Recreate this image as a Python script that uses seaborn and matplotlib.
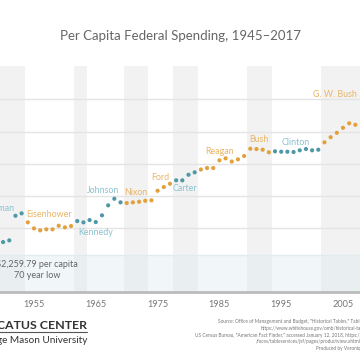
import matplotlib
matplotlib.use('Agg')
import matplotlib.pyplot as plt
import seaborn as sns
import pandas as pd

# per capita federal spending (visible part of the chart)
years = list(range(1950, 2008))
spending = [3094, 3200, 4738, 4888, 4325, 3950, 3825, 3888, 3888, 4113,
            4013, 4094, 4406, 4325, 4469, 4344, 4763, 5388, 5800, 5575,
            5531, 5575, 5613, 5675, 5700, 6300, 6531, 6738, 6950, 6950,
            7300, 7450, 7625, 7719, 7719, 8200, 8325, 8125, 8263, 8469,
            8925, 8906, 8863, 8700, 8763, 8738, 8738, 8719, 8825, 8906,
            8825, 8863, 9325, 9644, 9919, 10231, 10513, 10419]

# presidents: name, first fiscal year of their budget, party
presidents = ['Truman', 'Eisenhower', 'Kennedy', 'Johnson', 'Nixon', 'Ford',
              'Carter', 'Reagan', 'Bush', 'Clinton', 'G. W. Bush']
first_fy = [1946, 1954, 1962, 1964, 1970, 1974, 1978, 1982, 1990, 1994, 2002]
party = ['D', 'R', 'D', 'D', 'R', 'R', 'D', 'R', 'R', 'D', 'R']

low_value = 2259.79
xticks = [1955, 1965, 1975, 1985, 1995, 2005]

# label positions (year, value) for president names
label_pos = [(1951.9, 5219, 'right'), (1953.7, 4844, 'left'), (1962.1, 3675, 'left'),
             (1963.6, 6300, 'left'), (1969.6, 6200, 'left'), (1973.9, 7138, 'left'),
             (1977.5, 6425, 'left'), (1982.7, 8781, 'left'), (1989.8, 9488, 'left'),
             (1995.1, 9300, 'left'), (2000.15, 12325, 'left')]

def party_of(y):
    p = party[0]
    for fy, pt in zip(first_fy, party):
        if y >= fy:
            p = pt
    return p

df = pd.DataFrame({'year': years, 'spending': spending})
df['party'] = [party_of(y) for y in years]

dot_col = {'D': '#4f98a6', 'R': '#e2a13c'}
lab_col = {'D': '#8cc2cd', 'R': '#eab566'}

sns.set_style('white')
plt.rcParams['font.family'] = ['Lato', 'DejaVu Sans']

fig = plt.figure(figsize=(3.6, 3.6), dpi=100)
ax = fig.add_axes([0, 0.19, 1, 0.627])

# alternating presidency bands
for i, fy in enumerate(first_fy):
    end = first_fy[i + 1] - 0.5 if i + 1 < len(first_fy) else 2030
    if i % 2 == 0:
        ax.axvspan(fy - 0.5 if i > 0 else 1900, end, color='#f2f2f2', lw=0, zorder=0)

for v in range(4000, 14000, 2000):
    ax.axhline(v, color='#e4e4e4', lw=1, zorder=1)

ax.axhspan(0, low_value, color='#dcecee', alpha=0.4, lw=0, zorder=1)
ax.axhline(low_value, color='#e0ecee', lw=1, zorder=1)

sns.scatterplot(data=df, x='year', y='spending', hue='party', palette=dot_col,
                s=9, linewidth=0, legend=False, ax=ax, zorder=3)

for name, fy, pt, (lx, ly, ha) in zip(presidents, first_fy, party, label_pos):
    ax.text(lx, ly, name, color=lab_col[pt], fontsize=6.4, ha=ha, va='center')

ax.text(1955.5, 1400, '$2,259.79 per capita\n70 year low', color='#666666',
        fontsize=6.5, ha='center', va='center', linespacing=1.3)

ax.set_xlim(1949.5, 2007.75)
ax.set_ylim(0, 14100)
ax.set_yticks([])
ax.set_xticks(xticks)
ax.set_xticklabels([str(t) for t in xticks], color='#777777', fontsize=6.6)
ax.tick_params(axis='x', length=0, pad=6)
ax.set_xlabel('')
ax.set_ylabel('')
for s in ['top', 'left', 'right']:
    ax.spines[s].set_visible(False)
ax.spines['bottom'].set_color('#bbbbbb')
ax.spines['bottom'].set_linewidth(2)

fig.text(0.5, 0.9, 'Per Capita Federal Spending, 1945\u20132017', ha='center', va='center',
         fontsize=9.5, color='#666666')

fig.text(0.242, 0.097, 'MERCATUS CENTER', ha='right', va='center', fontsize=8.9,
         fontweight='bold', color='#333333')
fig.add_artist(plt.Line2D([-0.1, 0.242], [0.077, 0.077], color='#555555', lw=0.8))
fig.text(0.242, 0.055, 'George Mason University', ha='right', va='center', fontsize=7.2,
         color='#333333')

source = [('Source: Office of Management and Budget, "Historical Tables," Table 1.1', 218, 321.7),
          ('https://www.whitehouse.gov/omb/historical-tables/', 261, 328.2),
          ('US Census Bureau, "American Fact Finder," accessed January 12, 2018, https://factfinder.census.gov', 195, 335.2),
          ('/faces/tableservices/jsf/pages/productview.xhtml?pid=PEP_2017', 256, 341.8),
          ('Produced by Veronique de Rugy', 316, 348.5)]
for txt, px, py in source:
    fig.text(px / 360, 1 - py / 360, txt, ha='left', va='center', fontsize=3.4, color='#777777')

fig.savefig('out.png', dpi=100)
